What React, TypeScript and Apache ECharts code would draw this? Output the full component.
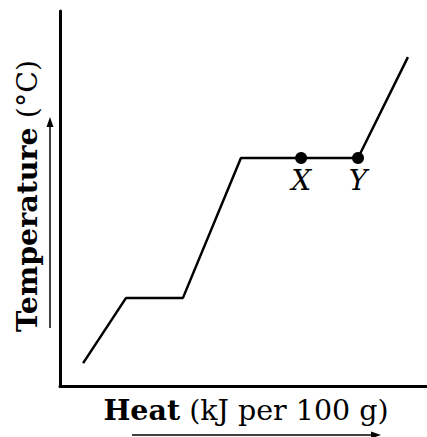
import React, { useEffect, useRef } from "react";
import * as echarts from "echarts";

const heat = [6.3, 18, 33.5, 49.3, 81.2, 94.8];
const temperature = [6.1, 23.5, 23.5, 60.8, 60.8, 87.7];
const pointNames = ["X", "Y"];
const pointHeat = [65.7, 81.2];
const pointTemp = [60.8, 60.8];
const xTitleBold = "Heat";
const xTitleRest = " (kJ per 100 g)";
const yTitleBold = "Temperature";
const yTitleRest = " (°C)";

const FONT = "DejaVu Serif";
const TITLE_SIZE = 28.5;

export default function App() {
  const ref = useRef<HTMLDivElement>(null);
  useEffect(() => {
    document.body.style.margin = "0";
    const chart = echarts.init(ref.current!, null, { renderer: "svg" });
    const lineData = heat.map((h, i) => [h, temperature[i]]);
    const pts = pointNames.map((n, i) => ({ name: n, value: [pointHeat[i], pointTemp[i]] }));
    chart.setOption({
      animation: false,
      grid: { left: 60, right: 0, top: 11, bottom: 51 },
      xAxis: {
        type: "value",
        min: 0,
        max: 100,
        axisLine: { show: true, lineStyle: { color: "#000", width: 3 } },
        axisTick: { show: false },
        axisLabel: { show: false },
        splitLine: { show: false },
      },
      yAxis: {
        type: "value",
        min: 0,
        max: 100,
        axisLine: { show: true, lineStyle: { color: "#000", width: 3 } },
        axisTick: { show: false },
        axisLabel: { show: false },
        splitLine: { show: false },
      },
      series: [
        {
          type: "line",
          data: lineData,
          symbol: "none",
          lineStyle: { color: "#000", width: 2.5 },
          silent: true,
        },
        {
          type: "scatter",
          data: pts,
          symbol: "circle",
          symbolSize: 12,
          itemStyle: { color: "#000", opacity: 1 },
          label: {
            show: true,
            position: "bottom",
            distance: 2,
            formatter: "{b}",
            color: "#000",
            fontSize: 28,
            fontStyle: "italic",
            fontFamily: FONT,
          },
        },
      ],
      graphic: [
        {
          type: "text",
          x: 27,
          y: 196,
          rotation: Math.PI / 2,
          style: {
            text: `{b|${yTitleBold}}${yTitleRest}`,
            fontSize: TITLE_SIZE,
            fontFamily: FONT,
            fill: "#000",
            align: "center",
            verticalAlign: "middle",
            rich: { b: { fontWeight: "bold", fontSize: TITLE_SIZE, fontFamily: FONT, fill: "#000" } },
          },
        },
        {
          type: "text",
          x: 246,
          y: 410,
          style: {
            text: `{b|${xTitleBold}}${xTitleRest}`,
            fontSize: TITLE_SIZE,
            fontFamily: FONT,
            fill: "#000",
            align: "center",
            verticalAlign: "middle",
            rich: { b: { fontWeight: "bold", fontSize: TITLE_SIZE, fontFamily: FONT, fill: "#000" } },
          },
        },
        { type: "line", shape: { x1: 50, y1: 328, x2: 50, y2: 124 }, style: { stroke: "#000", lineWidth: 1.5 } },
        { type: "polygon", shape: { points: [[50, 117], [46.5, 127], [53.5, 127]] }, style: { fill: "#000" } },
        { type: "line", shape: { x1: 132, y1: 435, x2: 372, y2: 435 }, style: { stroke: "#000", lineWidth: 1.5 } },
        { type: "polygon", shape: { points: [[381, 435], [371, 431.5], [371, 438.5]] }, style: { fill: "#000" } },
      ],
    });
    return () => chart.dispose();
  }, []);
  return <div ref={ref} style={{ width: 427, height: 437 }} />;
}
